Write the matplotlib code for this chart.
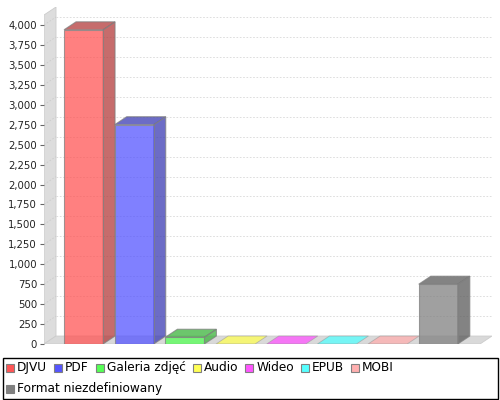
import matplotlib
matplotlib.use("Agg")
import matplotlib.pyplot as plt
from matplotlib.patches import Polygon, Rectangle
from matplotlib.ticker import FuncFormatter
import matplotlib.colors as mcolors

# Dane
kategorie = ["DJVU", "PDF", "Galeria zdjęć", "Audio", "Wideo", "EPUB", "MOBI",
             "Format niezdefiniowany"]
wartosci = [3940, 2750, 85, 0, 0, 0, 0, 750]
kolory = ["#ff5555", "#5555ff", "#55ff55", "#ffff55", "#ff55ff", "#55ffff",
          "#ffafaf", "#808080"]
ticki = list(range(0, 4001, 250))

# Geometria "3D"
DX, DY = 0.237, 100      # przesuniecie glebi (jednostki danych)
SZER = 0.77              # szerokosc slupka
XMIN, XMAX = -0.78, 8.06
YMAX = 4226
ALPHA = 0.75


def ciemniej(c, f=0.7):
    r, g, b = mcolors.to_rgb(c)
    return (r * f, g * f, b * f)


fig = plt.figure(figsize=(5, 4), dpi=100)
ax = fig.add_axes([44 / 500, 1 - 344 / 400, 448 / 500, 337 / 400])
ax.set_xlim(XMIN, XMAX)
ax.set_ylim(0, YMAX)
for s in ax.spines.values():
    s.set_visible(False)
ax.set_xticks([])
ax.set_yticks(ticki)
ax.yaxis.set_major_formatter(FuncFormatter(lambda v, p: f"{int(v):,}"))
ax.tick_params(axis="y", length=3, width=0.8, color="#666666", labelsize=7.3,
               labelcolor="#222222", pad=2)

# sciana lewa
ax.add_patch(Polygon([(XMIN, 0), (XMIN + DX, DY), (XMIN + DX, YMAX),
                      (XMIN, YMAX - DY)], closed=True, facecolor="#dddddd",
                     edgecolor="#cccccc", lw=0.6, zorder=1))
# podloga
ax.add_patch(Polygon([(XMIN, 0), (XMIN + DX, DY), (XMAX, DY), (XMAX - DX, 0)],
                     closed=True, facecolor="#d9d9d9", edgecolor="#cccccc",
                     lw=0.6, zorder=1))

# linie siatki
for t in ticki[1:]:
    ax.plot([XMIN + DX, XMAX], [t + DY, t + DY], color="#d8d8d8", lw=0.6,
            ls=(0, (2, 2)), zorder=2)
    ax.plot([XMIN, XMIN + DX], [t, t + DY], color="#cccccc", lw=0.6,
            ls=(0, (2, 2)), zorder=2)

# slupki
for i, (v, c) in enumerate(zip(wartosci, kolory)):
    x0, x1 = i - SZER / 2, i + SZER / 2
    jasny = (*mcolors.to_rgb(c), ALPHA)
    ciem = (*ciemniej(c), ALPHA)
    kw = dict(closed=True, edgecolor=(0.5, 0.5, 0.5, ALPHA), lw=0.8, zorder=3)
    if v == 0:
        # plaski slupek: tylko podstawa w kolorze frontu
        ax.add_patch(Polygon([(x0, 0), (x0 + DX, DY), (x1 + DX, DY), (x1, 0)],
                             facecolor=jasny, closed=True, zorder=3,
                             edgecolor=(0.6, 0.6, 0.6, 0.6), lw=0.6))
        continue
    # bok
    ax.add_patch(Polygon([(x1, 0), (x1 + DX, DY), (x1 + DX, v + DY), (x1, v)],
                         facecolor=ciem, **kw))
    # gora
    ax.add_patch(Polygon([(x0, v), (x0 + DX, v + DY), (x1 + DX, v + DY), (x1, v)],
                         facecolor=ciem, **kw))
    # front
    ax.add_patch(Polygon([(x0, 0), (x0, v), (x1, v), (x1, 0)],
                         facecolor=jasny, **kw))

# legenda (uklad w pikselach)
lg = fig.add_axes([0, 0, 1, 1], facecolor="none")
lg.set_xlim(0, 500)
lg.set_ylim(400, 0)
lg.axis("off")
lg.add_patch(Rectangle((2.5, 357.5), 495, 41, fill=False, edgecolor="black",
                       lw=1))
renderer = fig.canvas.get_renderer()
x, y = 6, 367.5
for nazwa, c in zip(kategorie, kolory):
    t = lg.text(0, 0, nazwa, fontsize=8.7, va="center", ha="left",
                color="black")
    w = t.get_window_extent(renderer).width
    if x + 11 + w > 494:
        x, y = 6, y + 21
    lg.add_patch(Rectangle((x, y - 4), 8, 8, facecolor=c, edgecolor="#808080",
                           lw=0.8))
    t.set_position((x + 11, y))
    x += 11 + w + 7

fig.savefig("out.png", dpi=100)
